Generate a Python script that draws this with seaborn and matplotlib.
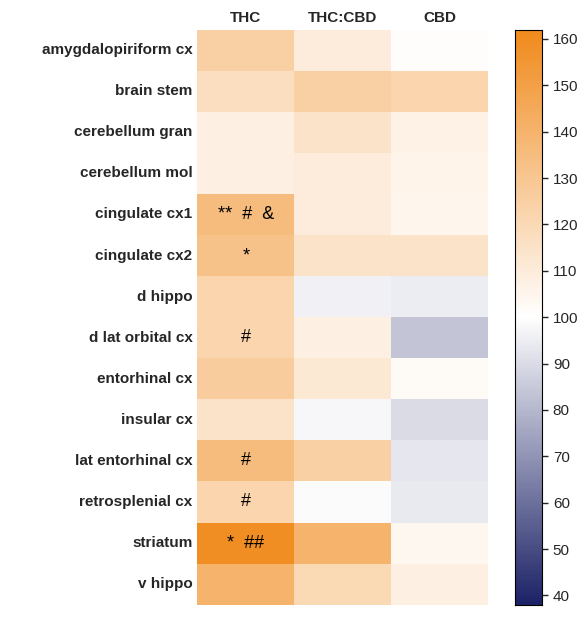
import numpy as np
import pandas as pd
import matplotlib.pyplot as plt
import seaborn as sns
from matplotlib.colors import LinearSegmentedColormap, TwoSlopeNorm

regions = ["amygdalopiriform cx", "brain stem", "cerebellum gran", "cerebellum mol",
           "cingulate cx1", "cingulate cx2", "d hippo", "d lat orbital cx",
           "entorhinal cx", "insular cx", "lat entorhinal cx", "retrosplenial cx",
           "striatum", "v hippo"]
groups = ["THC", "THC:CBD", "CBD"]
thc = [125, 117, 108, 108, 135, 132, 122, 122, 127, 115, 135, 122, 160, 140]
thc_cbd = [110, 125, 115, 110, 110, 115, 96, 108, 112, 98, 125, 99, 140, 120]
cbd = [101, 122, 107, 106, 105, 115, 95, 84, 102, 90, 93, 94, 104, 108]
marks = ["", "", "", "", "**  #  &", "*", "", "#", "", "", "#", "#", "*  ##", ""]

df = pd.DataFrame({"THC": thc, "THC:CBD": thc_cbd, "CBD": cbd}, index=regions)
annot = pd.DataFrame({"THC": marks, "THC:CBD": [""] * 14, "CBD": [""] * 14}, index=regions)

sns.set_style("white")
plt.rcParams['font.family'] = ['Liberation Sans', 'DejaVu Sans']

cmap = LinearSegmentedColormap.from_list("bwo", ["#1c2266", "#ffffff", "#f08a1c"])
norm = TwoSlopeNorm(vmin=38, vcenter=100, vmax=162)

fig = plt.figure(figsize=(5.77, 6.17), dpi=100)
ax = fig.add_axes([0.342, 0.02, 0.504, 0.932])
cax = fig.add_axes([0.893, 0.02, 0.047, 0.932])
sns.heatmap(df, ax=ax, cbar_ax=cax, cmap=cmap, norm=norm, annot=annot, fmt="",
            annot_kws={"fontsize": 13, "color": "black"})
ax.xaxis.tick_top()
ax.tick_params(length=0)
ax.set_xticklabels(groups, fontsize=11, fontweight="bold")
ax.set_yticklabels(regions, fontsize=11, fontweight="bold", rotation=0)
cax.set_yticks(range(40, 161, 10))
cax.tick_params(labelsize=11, length=4, width=1)
for s in cax.spines.values():
    s.set_visible(True)
    s.set_color("black")
fig.savefig("out.png", dpi=100)
